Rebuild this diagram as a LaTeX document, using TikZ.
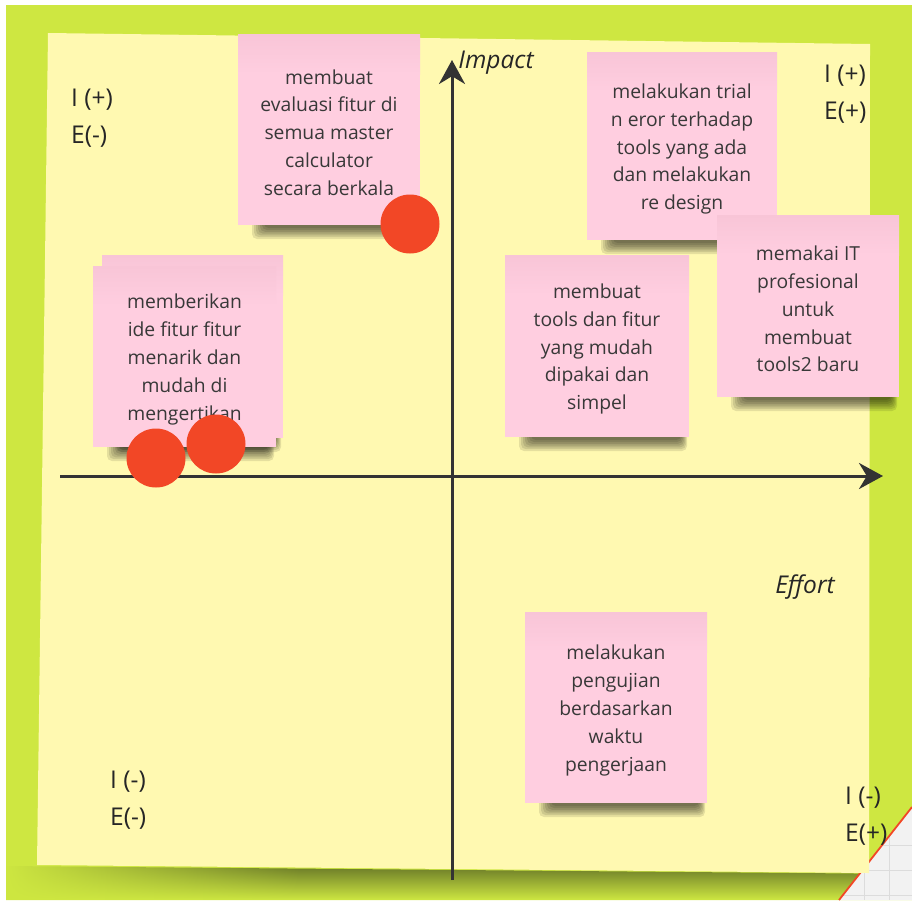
\documentclass[tikz,border=0pt]{standalone}
\usepackage{fontspec}
\setmainfont{Open Sans}
\usetikzlibrary{arrows.meta,fadings}
\definecolor{bglime}{HTML}{CEE741}
\definecolor{bgolive}{HTML}{6A7A28}
\definecolor{boardyellow}{HTML}{FFF9B1}
\definecolor{notepink}{HTML}{FFCEE0}
\definecolor{notepinkdark}{HTML}{F8C5D7}
\definecolor{notetext}{HTML}{383838}
\definecolor{dotred}{HTML}{F24726}
\definecolor{axisgray}{HTML}{333333}
\definecolor{cornergray}{HTML}{F2F2F2}
\definecolor{gridgray}{HTML}{DCDCDC}
\tikzfading[name=fadedown, top color=transparent!0, bottom color=transparent!100]
\tikzfading[name=fadeleft, left color=transparent!0, right color=transparent!100]
\tikzset{
  notetxt/.style={inner sep=0pt, align=center, text=notetext,
    font=\fontsize{19.3}{27.8}\selectfont},
  reddot/.style={circle, fill=dotred, inner sep=0pt, minimum size=59pt},
  axisline/.style={draw=axisgray, line width=3pt, -{Stealth[length=24pt,width=26pt]}},
  quadlbl/.style={inner sep=0pt, align=left, text=black!85, font=\fontsize{24.5}{36.5}\selectfont},
  axislbl/.style={inner sep=0pt, text=black!85, font=\fontsize{24.5}{27}\selectfont\itshape},
}
\newcommand\stickynote[6]{%
  \foreach \k in {0,...,6}{%
    \fill[black, opacity=.1, rounded corners=5pt]
      ({#2+14+2*\k},{#5-6}) rectangle ({#4-2-\k},{#5+14-1.8*\k});
  }
  \fill[notepink] (#2,#3) rectangle (#4,#5);
  \shade[top color=notepinkdark, bottom color=notepink] (#2,#3) rectangle (#4,{#3+40});
  \node[notetxt] (#1) at ({(#2+#4)/2},{(#3+#5)/2+3}) {#6};
}
\begin{document}
\begin{tikzpicture}[x=1pt, y=-1pt]
\useasboundingbox (0,0) rectangle (912,900);
% background
\fill[white] (0,0) rectangle (912,900);
\fill[bglime] (6,5) rectangle (912,900);
% shadow under the board
\shade[top color=bgolive, bottom color=bglime] (6,866) -- (912,874) -- (912,900) -- (6,900) -- cycle;
\fill[bglime, path fading=fadeleft] (6,860) rectangle (300,900);
% white corner
\fill[cornergray] (839,900) -- (912,807) -- (912,900) -- cycle;
\begin{scope}
  \clip (839,900) -- (912,807) -- (912,900) -- cycle;
  \draw[gridgray, line width=0.8pt] (864,800) -- (864,900) (889,800) -- (889,900)
    (830,845) -- (912,845) (830,870) -- (912,870) (830,895) -- (912,895);
\end{scope}
\draw[dotred, line width=1.8pt] (839,900) -- (912,807);
% board
\fill[boardyellow] (48,33) -- (870,44) -- (869,873) -- (37,865) -- cycle;
% axes
\coordinate (ybot) at (452,880);
\coordinate (ytop) at (452,60);
\coordinate (xleft) at (60,476);
\coordinate (xright) at (883,476);
\draw[axisline] (ybot) -- (ytop);
\draw[axisline] (xleft) -- (xright);
% labels
\node[axislbl] (impact) at (496,63) {Impact};
\node[axislbl] (effort) at (805,587) {Effort};
\node[quadlbl, anchor=west] (qtl) at (71,118) {I (+)\\E(-)};
\node[quadlbl, anchor=west] (qtr) at (824,94) {I (+)\\E(+)};
\node[quadlbl, anchor=west] (qbl) at (110,800) {I (-)\\E(-)};
\node[quadlbl, anchor=west] (qbr) at (845,816) {I (-)\\E(+)};
% sticky notes
\stickynote{n1}{238}{34}{420}{225}{membuat\\evaluasi fitur di\\semua master\\calculator\\secara berkala}
\stickynote{n2b}{102}{255}{283}{438}{}
\stickynote{n2}{93}{266}{276}{447}{memberikan\\ide fitur fitur\\menarik dan\\mudah di\\mengertikan}
\stickynote{n3}{587}{52}{777}{240}{melakukan trial\\n eror terhadap\\tools yang ada\\dan melakukan\\re design}
\stickynote{n4}{717}{215}{899}{397}{memakai IT\\profesional\\untuk\\membuat\\tools2 baru}
\stickynote{n5}{505}{255}{689}{437}{membuat\\tools dan fitur\\yang mudah\\dipakai dan\\simpel}
\stickynote{n6}{525}{612}{707}{803}{melakukan\\pengujian\\berdasarkan\\waktu\\pengerjaan}
% dots
\node[reddot] (d1) at (410,224) {};
\node[reddot] (d2) at (156,458) {};
\node[reddot] (d3) at (216,444) {};
\end{tikzpicture}
\end{document}
